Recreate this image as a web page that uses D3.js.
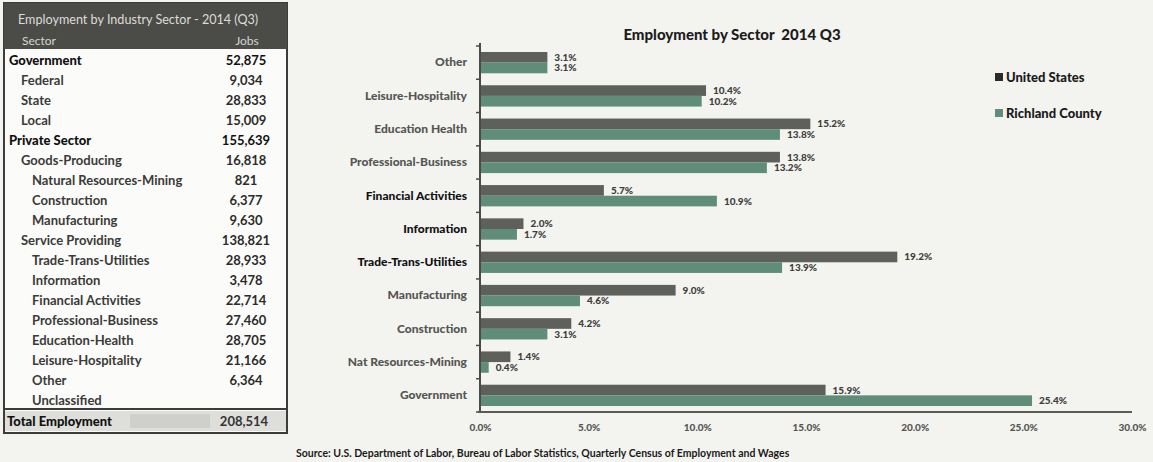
<!DOCTYPE html>
<html>
<head>
<meta charset="utf-8">
<script src="https://cdn.jsdelivr.net/npm/d3@7"></script>
<style>
  html, body { margin: 0; padding: 0; background: #f3f3ef; }
  svg { display: block; }
  text { font-family: Lato, "Open Sans", sans-serif; white-space: pre; }
</style>
</head>
<body>
<svg id="chart" width="1153" height="462"></svg>
<script>
// ---- Table data: employment by industry sector, Richland County, 2014 Q3 ----
const sectorNames = [
  "Government", "Federal", "State", "Local",
  "Private Sector", "Goods-Producing", "Natural Resources-Mining", "Construction", "Manufacturing",
  "Service Providing", "Trade-Trans-Utilities", "Information", "Financial Activities",
  "Professional-Business", "Education-Health", "Leisure-Hospitality", "Other", "Unclassified"
];
const sectorDepth = [0, 1, 1, 1, 0, 1, 2, 2, 2, 1, 2, 2, 2, 2, 2, 2, 2, 2];
const sectorJobs = [
  52875, 9034, 28833, 15009,
  155639, 16818, 821, 6377, 9630,
  138821, 28933, 3478, 22714,
  27460, 28705, 21166, 6364, null
];
const totalEmployment = 208514;

// ---- Bar chart data: share of employment by sector (%) ----
const categories = [
  "Other", "Leisure-Hospitality", "Education Health", "Professional-Business",
  "Financial Activities", "Information", "Trade-Trans-Utilities", "Manufacturing",
  "Construction", "Nat Resources-Mining", "Government"
];
const unitedStates = [3.1, 10.4, 15.2, 13.8, 5.7, 2.0, 19.2, 9.0, 4.2, 1.4, 15.9];
const richlandCounty = [3.1, 10.2, 13.8, 13.2, 10.9, 1.7, 13.9, 4.6, 3.1, 0.4, 25.4];
const seriesNames = ["United States", "Richland County"];
const xTicks = [0, 5, 10, 15, 20, 25, 30];

const svg = d3.select("#chart");
const fmtJobs = d3.format(",");

// ================= Table =================
const tbl = { x: 4, y: 3, w: 283, headH: 46, rowH: 20 };
const tableG = svg.append("g");
const bodyTop = tbl.y + tbl.headH + 1;
const totalTop = bodyTop + sectorNames.length * tbl.rowH + 1;

// body background
tableG.append("rect")
  .attr("x", tbl.x).attr("y", tbl.y)
  .attr("width", tbl.w).attr("height", totalTop + tbl.rowH + 2 - tbl.y)
  .attr("fill", "#fbfbf9").attr("stroke", "#3c3d3a").attr("stroke-width", 2);

// header band
tableG.append("rect")
  .attr("x", tbl.x).attr("y", tbl.y)
  .attr("width", tbl.w).attr("height", tbl.headH)
  .attr("fill", "#4b4c48");
tableG.append("text")
  .attr("x", tbl.x + 14).attr("y", tbl.y + 21)
  .attr("fill", "#dcdcd8").attr("font-size", 12.6)
  .text("Employment by Industry Sector - 2014 (Q3)");
tableG.append("text")
  .attr("x", tbl.x + 18).attr("y", tbl.y + 42)
  .attr("fill", "#d4d4d0").attr("font-size", 12)
  .text("Sector");
tableG.append("text")
  .attr("x", 247).attr("y", tbl.y + 42)
  .attr("text-anchor", "middle")
  .attr("fill", "#d4d4d0").attr("font-size", 12)
  .text("Jobs");

const indent = [5, 17, 28];
const rows = tableG.selectAll("g.row")
  .data(sectorNames.map((name, i) => ({ name, depth: sectorDepth[i], jobs: sectorJobs[i] })))
  .join("g")
  .attr("class", "row")
  .attr("transform", (d, i) => `translate(0,${bodyTop + i * tbl.rowH + tbl.rowH / 2})`);

rows.append("text")
  .attr("x", d => tbl.x + indent[d.depth])
  .attr("dy", "0.35em")
  .attr("font-size", 13)
  .attr("font-weight", d => d.depth === 0 ? 900 : 700)
  .attr("fill", d => d.depth === 0 ? "#111" : "#3a3a38")
  .text(d => d.name);

rows.append("text")
  .attr("x", 246)
  .attr("dy", "0.35em")
  .attr("text-anchor", "middle")
  .attr("font-size", 13)
  .attr("font-weight", 700)
  .attr("fill", d => d.depth === 0 ? "#111" : "#2c2c2a")
  .text(d => d.jobs == null ? "" : fmtJobs(d.jobs));

// total row
tableG.append("line")
  .attr("x1", tbl.x).attr("x2", tbl.x + tbl.w)
  .attr("y1", totalTop - 2).attr("y2", totalTop - 2)
  .attr("stroke", "#3c3d3a").attr("stroke-width", 2);
tableG.append("rect")
  .attr("x", tbl.x + 1).attr("y", totalTop)
  .attr("width", tbl.w - 2).attr("height", tbl.rowH)
  .attr("fill", "#dededa");
tableG.append("rect")
  .attr("x", 130).attr("y", totalTop + 3)
  .attr("width", 80).attr("height", tbl.rowH - 6)
  .attr("fill", "#cfcfcb");
tableG.append("text")
  .attr("x", tbl.x + 3).attr("y", totalTop + tbl.rowH / 2)
  .attr("dy", "0.35em").attr("font-size", 13).attr("font-weight", 900)
  .attr("fill", "#111")
  .text("Total Employment");
tableG.append("text")
  .attr("x", 244).attr("y", totalTop + tbl.rowH / 2)
  .attr("dy", "0.35em").attr("text-anchor", "middle")
  .attr("font-size", 13).attr("font-weight", 700)
  .attr("fill", "#333")
  .text(fmtJobs(totalEmployment));

// ================= Bar chart =================
const plot = { left: 480, right: 1132, top: 46, bottom: 412 };
const colors = ["#5e605b", "#5f8d79"];

const x = d3.scaleLinear().domain([0, 30]).range([plot.left, plot.right]);
const y = d3.scaleBand().domain(categories).range([plot.top, plot.bottom])
  .paddingInner(0.36).paddingOuter(0.18);
const ySeries = d3.scaleBand().domain(seriesNames).range([0, y.bandwidth()]);

const chartG = svg.append("g");

// title
chartG.append("text")
  .attr("x", 732).attr("y", 35)
  .attr("dy", "0.35em")
  .attr("text-anchor", "middle")
  .attr("font-size", 15).attr("font-weight", 900)
  .attr("fill", "#1c1c1c")
  .text("Employment by Sector  2014 Q3");

const seriesValues = [unitedStates, richlandCounty];
const barData = [];
categories.forEach((c, i) => {
  seriesNames.forEach((s, j) => barData.push({ cat: c, series: s, value: seriesValues[j][i], j }));
});

chartG.append("g").selectAll("rect")
  .data(barData)
  .join("rect")
  .attr("x", x(0))
  .attr("y", d => y(d.cat) + ySeries(d.series))
  .attr("width", d => x(d.value) - x(0))
  .attr("height", ySeries.bandwidth())
  .attr("fill", d => colors[d.j]);

chartG.append("g").selectAll("text")
  .data(barData)
  .join("text")
  .attr("x", d => x(d.value) + 7)
  .attr("y", d => y(d.cat) + ySeries(d.series) + ySeries.bandwidth() / 2)
  .attr("dy", "0.35em")
  .attr("font-size", 10).attr("font-weight", 900)
  .attr("fill", "#3e3e3c")
  .text(d => d.value.toFixed(1) + "%");

// category axis
const darkLabels = new Set(["Financial Activities", "Information", "Trade-Trans-Utilities"]);
const yAxis = chartG.append("g")
  .attr("transform", `translate(${plot.left},0)`)
  .call(d3.axisLeft(y).tickSize(0).tickPadding(13));
yAxis.select(".domain").remove();
yAxis.selectAll("text")
  .attr("font-family", "Lato, sans-serif")
  .attr("font-size", 12).attr("font-weight", 900)
  .attr("fill", d => darkLabels.has(d) ? "#111" : "#555653");

// boundary ticks between categories
const bounds = categories.map(c => y(c) - y.step() * y.paddingInner() / 2);
bounds.push(plot.bottom);
chartG.append("g").selectAll("line")
  .data(bounds)
  .join("line")
  .attr("x1", plot.left - 4).attr("x2", plot.left)
  .attr("y1", d => d).attr("y2", d => d)
  .attr("stroke", "#4a4a48").attr("stroke-width", 1.5);

chartG.append("line")
  .attr("x1", plot.left).attr("x2", plot.left)
  .attr("y1", plot.top - 3).attr("y2", plot.bottom)
  .attr("stroke", "#4a4a48").attr("stroke-width", 2);
chartG.append("line")
  .attr("x1", plot.left - 2).attr("x2", plot.right)
  .attr("y1", plot.bottom).attr("y2", plot.bottom)
  .attr("stroke", "#5a5b57").attr("stroke-width", 2);

// value axis
const xAxis = chartG.append("g")
  .attr("transform", `translate(0,${plot.bottom})`)
  .call(d3.axisBottom(x).tickValues(xTicks).tickSize(0).tickPadding(12)
    .tickFormat(v => v.toFixed(1) + "%"));
xAxis.select(".domain").remove();
xAxis.selectAll("text")
  .attr("font-family", "Lato, sans-serif")
  .attr("font-size", 10).attr("font-weight", 900)
  .attr("fill", "#555653");

// legend
const legend = chartG.append("g").selectAll("g")
  .data(seriesNames)
  .join("g")
  .attr("transform", (d, i) => `translate(995,${77 + i * 36})`);
legend.append("rect")
  .attr("x", 0).attr("y", -4).attr("width", 8).attr("height", 8)
  .attr("fill", (d, i) => i === 0 ? "#2b2b2a" : colors[1]);
legend.append("text")
  .attr("x", 11).attr("dy", "0.35em")
  .attr("font-size", 13).attr("font-weight", 900)
  .attr("fill", "#1a1a1a")
  .text(d => d);

// source note
svg.append("text")
  .attr("x", 296).attr("y", 453)
  .attr("dy", "0.35em")
  .attr("font-size", 10.5).attr("font-weight", 700)
  .attr("fill", "#1a1a1a")
  .text("Source: U.S. Department of Labor, Bureau of Labor Statistics, Quarterly Census of Employment and Wages");
</script>
</body>
</html>
